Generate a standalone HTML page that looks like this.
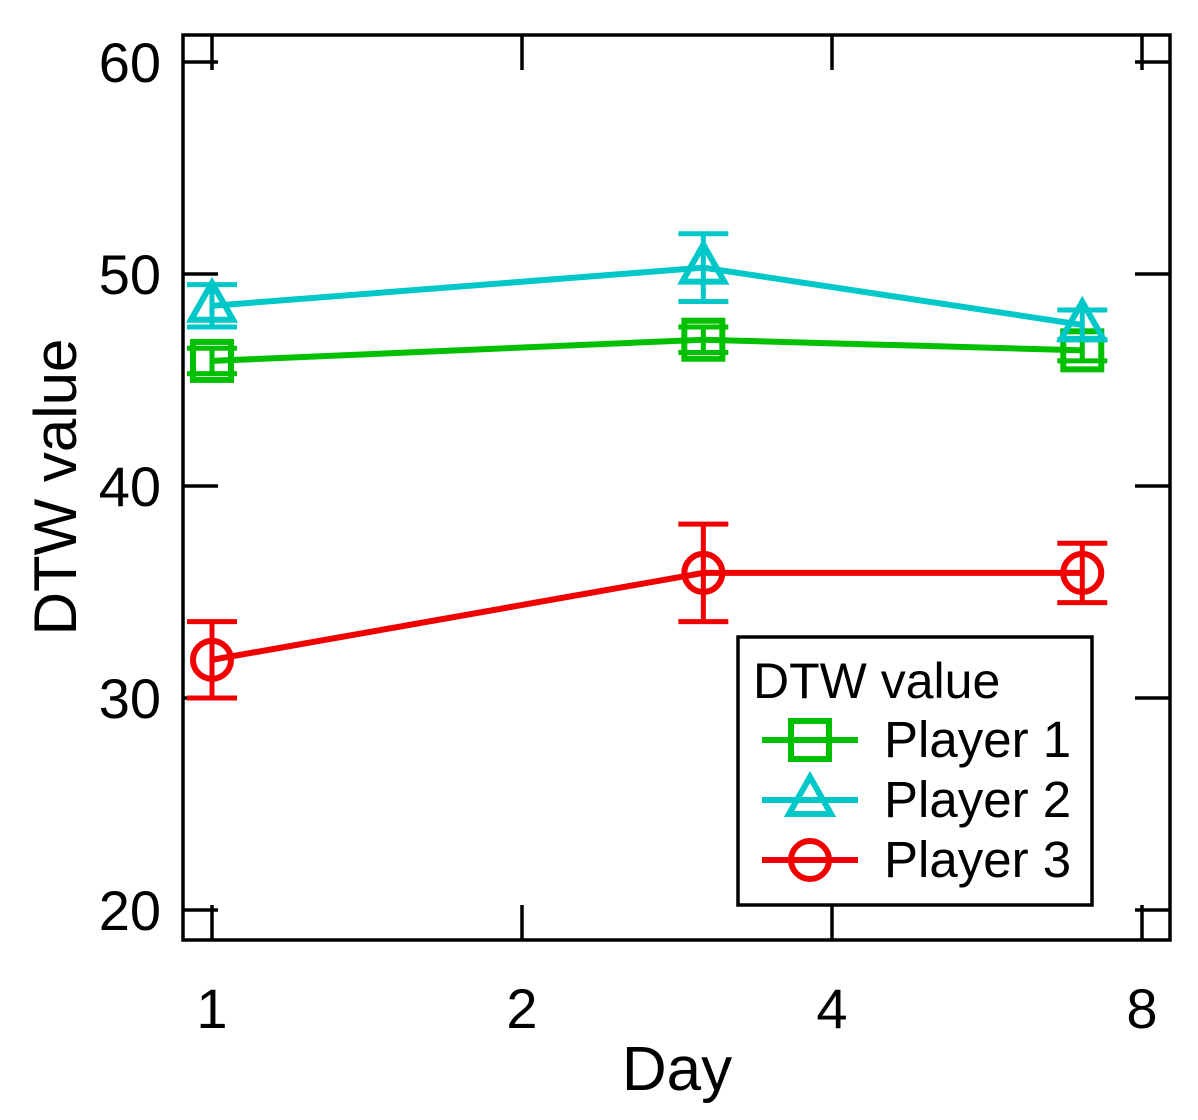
<!DOCTYPE html>
<html><head><meta charset="utf-8"><style>
body{margin:0;background:#fff}
svg{display:block;font-family:"Liberation Sans",sans-serif}
</style></head><body>
<svg id="chart" width="1198" height="1120" viewBox="0 0 1198 1120" xmlns="http://www.w3.org/2000/svg">
<rect x="0" y="0" width="1198" height="1120" fill="#fff"/>
<g id="ticks"></g>
<g id="series"></g>
<rect x="183" y="35" width="987" height="905" fill="none" stroke="#000" stroke-width="3.5"/>
<text x="677" y="1090" font-size="62" text-anchor="middle">Day</text>
<text transform="translate(76,487) rotate(-90)" font-size="60" text-anchor="middle">DTW value</text>
<g>
<rect x="738" y="637" width="354" height="268" fill="#fff" stroke="#000" stroke-width="3.5"/>
<text x="753" y="698" font-size="50">DTW value</text>
<g id="legend-entries"></g>
</g>
</svg>
<script>
const days = [1, 3, 7];
const xTicks = [1, 2, 4, 8];
const yTicks = [20, 30, 40, 50, 60];
const names = ["Player 1", "Player 2", "Player 3"];
const p1 = [45.9, 46.9, 46.4];
const p2 = [48.5, 50.3, 47.6];
const p3 = [31.8, 35.9, 35.9];
const e1 = [0.6, 0.6, 0.5];
const e2 = [1.0, 1.6, 0.7];
const e3 = [1.8, 2.3, 1.4];
const colors = ["#00c000", "#00c8c8", "#f00000"];
const markers = ["square", "triangle", "circle"];
const NS = "http://www.w3.org/2000/svg";
const xs = d => 212 + 310 * Math.log2(d);
const ys = v => 910 - 21.2 * (v - 20);
function mk(tag, attrs, parent){const e=document.createElementNS(NS,tag);for(const k in attrs)e.setAttribute(k,attrs[k]);parent.appendChild(e);return e;}
const tg = document.getElementById('ticks');
xTicks.forEach(t=>{
  const x=xs(t);
  const a=mk('line',{x1:x,y1:940,x2:x,y2:905,stroke:'#000','stroke-width':3.5},tg);
  
  
  const b=mk('line',{x1:x,y1:35,x2:x,y2:70,stroke:'#000','stroke-width':3.5},tg);
  
  
  const l=mk('text',{x:x,y:1028,'font-size':56,'text-anchor':'middle'},tg);
  l.textContent=t;
  
  
});
yTicks.forEach(t=>{
  const y=ys(t);
  const a=mk('line',{x1:183,y1:y,x2:218,y2:y,stroke:'#000','stroke-width':3.5},tg);
  
  
  const b=mk('line',{x1:1170,y1:y,x2:1135,y2:y,stroke:'#000','stroke-width':3.5},tg);
  
  
  const l=mk('text',{x:161,y:y+20,'font-size':56,'text-anchor':'end'},tg);
  l.textContent=t;
  
  
});
function marker(type,x,y,c,parent){
  let m;
  if(type==='square') m=mk('rect',{x:x-19,y:y-19,width:38,height:38,fill:'none',stroke:c,'stroke-width':6},parent);
  else if(type==='triangle') m=mk('polygon',{points:`${x},${y-23} ${x+21},${y+14} ${x-21},${y+14}`,fill:'none',stroke:c,'stroke-width':6},parent);
  else m=mk('circle',{cx:x,cy:y,r:19,fill:'none',stroke:c,'stroke-width':6},parent);
  return m;
}
const sg=document.getElementById('series');
[[p1,e1],[p2,e2],[p3,e3]].forEach(([vals,errs],i)=>{
  const g=mk('g',{},sg);
  
  
  const line=mk('polyline',{points:vals.map((v,j)=>xs(days[j])+','+ys(v)).join(' '),fill:'none',stroke:colors[i],'stroke-width':6},g);
  
  
  vals.forEach((v,j)=>{
    const x=xs(days[j]),yt=ys(v+errs[j]),yb=ys(v-errs[j]);
    const eb=mk('path',{d:`M${x},${yt}V${yb}M${x-25},${yt}H${x+25}M${x-25},${yb}H${x+25}`,stroke:colors[i],'stroke-width':5,fill:'none'},g);
    
    
    const m=marker(markers[i],x,ys(v),colors[i],g);
    
    
  });
});
const lg=document.getElementById('legend-entries');
names.forEach((n,i)=>{
  const y=740+60*i;
  const g=mk('g',{},lg);
  
  
  mk('line',{x1:762,y1:y,x2:858,y2:y,stroke:colors[i],'stroke-width':6},g);
  marker(markers[i],810,y,colors[i],g);
  const t=mk('text',{x:884,y:y+17,'font-size':51},g);
  t.textContent=n;
});
</script>
</body></html>
